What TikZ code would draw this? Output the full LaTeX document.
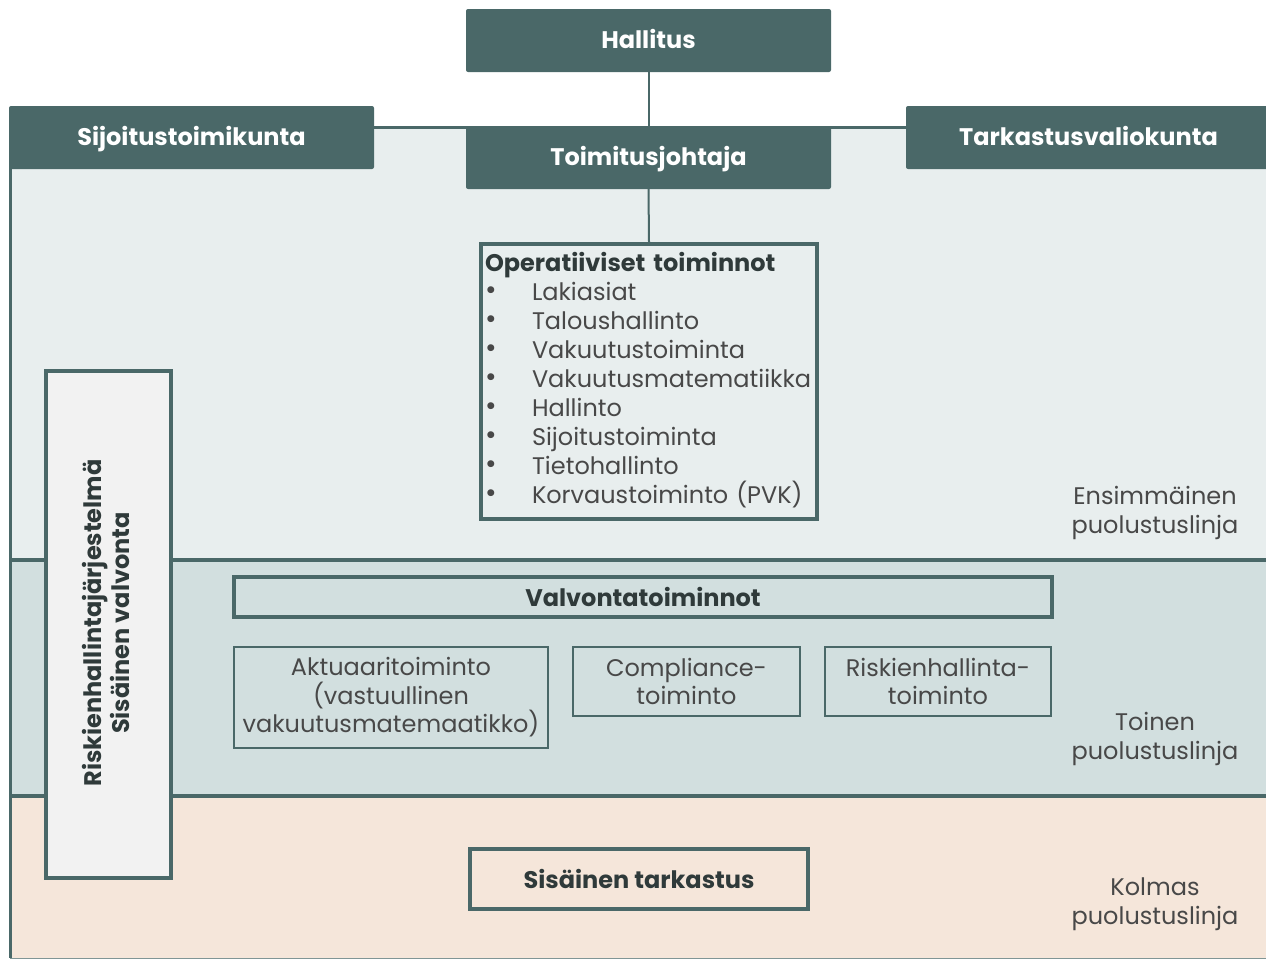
\documentclass[tikz,border=0pt]{standalone}
\usepackage{fontspec}
\setmainfont{Poppins}
\definecolor{teal}{RGB}{74,104,104}
\definecolor{bandA}{RGB}{232,238,238}
\definecolor{bandB}{RGB}{210,223,223}
\definecolor{bandC}{RGB}{245,230,218}
\definecolor{boxgrey}{RGB}{242,242,242}
\definecolor{txtdark}{RGB}{47,58,58}
\definecolor{txtreg}{RGB}{72,72,72}
\newcommand{\bul}{\makebox[47pt][l]{\raisebox{1pt}{\fontsize{28}{29}\selectfont •}}}
\begin{document}
\begin{tikzpicture}[x=1pt,y=-1pt,
  headbox/.style={fill=teal,rounded corners=2pt,inner sep=0pt,text=white,
    text height=19pt,text depth=3pt,
    font=\fontsize{24}{28}\selectfont\bfseries},
  thickbox/.style={draw=teal,line width=4pt,inner sep=0pt},
  thinbox/.style={draw=teal,line width=2pt,inner sep=0pt,align=center,text=txtreg,
    font=\fontsize{24}{28.5}\selectfont},
  lbl/.style={align=center,text=txtreg,font=\fontsize{24}{28.5}\selectfont},
  conn/.style={draw=teal,line width=2pt}]
\useasboundingbox (0,0) rectangle (1266,961);
\fill[white] (0,0) rectangle (1266,961);
% bands
\fill[bandA] (10,127) rectangle (1266,560);
\fill[bandB] (10,560) rectangle (1266,796);
\fill[bandC] (10,796) rectangle (1266,958);
% frame lines
\draw[teal,line width=3pt] (10.5,110) -- (10.5,958);
\draw[teal,line width=3pt] (300,127) -- (1000,127);
\draw[teal,line width=4.5pt] (10,560) -- (1266,560);
\draw[teal,line width=4.5pt] (10,796) -- (1266,796);
\draw[teal!70,line width=1.5pt] (10,958.5) -- (1266,958.5);
% left vertical box
\node[thickbox,fill=boxgrey,minimum width=125,minimum height=507] (rk) at (108.5,624.5) {};
\node[rotate=90,align=center,text=txtdark,font=\fontsize{24}{28}\selectfont\bfseries] (rkt) at (106,623)
  {Riskienhallintajärjestelmä\\Sisäinen valvonta};
% head boxes
\node[headbox,minimum width=365,minimum height=63] (hal) at (648.5,40.5) {Hallitus};
\node[headbox,minimum width=365,minimum height=63] (sij) at (191.5,137.5) {Sijoitustoimikunta};
\node[headbox,minimum width=365,minimum height=63] (tark) at (1088.5,137.5) {Tarkastusvaliokunta};
\node[headbox,minimum width=365,minimum height=63] (toim) at (648.5,157.5) {Toimitusjohtaja};
% operative box
\node[thickbox,fill=bandA,minimum width=336,minimum height=275,text width=328,align=left,
  text=txtreg,font=\fontsize{24}{29}\selectfont] (ops) at (649,381.5)
  {\textcolor{txtdark}{\bfseries Operatiiviset toiminnot}\\
   \bul Lakiasiat\\
   \bul Taloushallinto\\
   \bul Vakuutustoiminta\\
   \bul Vakuutusmatematiikka\\
   \bul Hallinto\\
   \bul Sijoitustoiminta\\
   \bul Tietohallinto\\
   \bul Korvaustoiminto (PVK)\vspace{3pt}};
\draw[conn] (hal.south) -- (toim.north);
\draw[conn] (toim.south) -- (ops.north);
% control functions
\node[thickbox,minimum width=818,minimum height=40,text=txtdark,
  font=\fontsize{24}{28}\selectfont\bfseries] (valv) at (643,597) {Valvontatoiminnot};
\node[thinbox,minimum width=314,minimum height=101] (akt) at (391,697.5)
  {Aktuaaritoiminto\\(vastuullinen\\vakuutusmatemaatikko)};
\node[thinbox,minimum width=227,minimum height=69] (comp) at (686.5,681.5)
  {Compliance-\\toiminto};
\node[thinbox,minimum width=226,minimum height=69] (risk) at (938,681.5)
  {Riskienhallinta-\\toiminto};
% internal audit
\node[thickbox,minimum width=338,minimum height=60,text=txtdark,
  font=\fontsize{24}{28}\selectfont\bfseries] (sis) at (639,879) {Sisäinen tarkastus};
% line labels
\node[lbl] (l1) at (1155,513) {Ensimmäinen\\puolustuslinja};
\node[lbl] (l2) at (1155,739) {Toinen\\puolustuslinja};
\node[lbl] (l3) at (1155,904) {Kolmas\\puolustuslinja};
\end{tikzpicture}
\end{document}
